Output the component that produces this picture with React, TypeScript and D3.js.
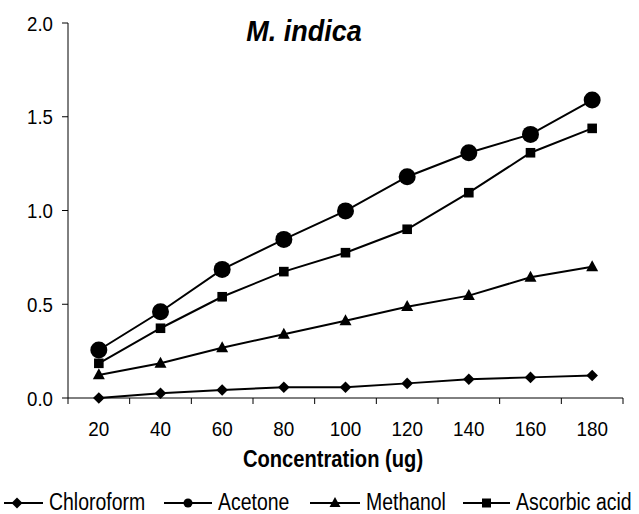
import React from "react";
import * as d3 from "d3";

// concentration (ug) on the x axis
const categories = ["20", "40", "60", "80", "100", "120", "140", "160", "180"];

const chloroform = [0.0, 0.025, 0.043, 0.057, 0.057, 0.078, 0.1, 0.11, 0.12];
const acetone = [0.256, 0.46, 0.686, 0.846, 0.998, 1.18, 1.308, 1.406, 1.589];
const methanol = [0.123, 0.185, 0.268, 0.34, 0.412, 0.487, 0.546, 0.644, 0.7];
const ascorbic = [0.185, 0.372, 0.54, 0.674, 0.775, 0.9, 1.095, 1.308, 1.438];

const yTicks = [0, 0.5, 1.0, 1.5, 2.0];

const seriesList = [
  { name: "Chloroform", values: chloroform, shape: "diamond" },
  { name: "Acetone", values: acetone, shape: "circle" },
  { name: "Methanol", values: methanol, shape: "triangle" },
  { name: "Ascorbic acid", values: ascorbic, shape: "square" },
];

const width = 639;
const height = 514;
const plot = { left: 68, right: 623, top: 23, bottom: 398 };
const font = "'Liberation Sans', Arial, sans-serif";

// big markers in the plot, small ones in the legend
const markerPath = (shape: string, big: boolean) => {
  if (shape === "circle") {
    const r = big ? 8.5 : 4.5;
    return `M${-r},0A${r},${r} 0 1,0 ${r},0A${r},${r} 0 1,0 ${-r},0Z`;
  }
  if (shape === "square") {
    const h = big ? 4.8 : 4.5;
    return `M${-h},${-h}H${h}V${h}H${-h}Z`;
  }
  if (shape === "triangle") {
    const w = big ? 6 : 5.5;
    const h = big ? 11 : 10;
    return `M0,${-h * 0.6}L${w},${h * 0.4}L${-w},${h * 0.4}Z`;
  }
  const d = big ? 5.8 : 5.5;
  return `M0,${-d}L${d},0L0,${d}L${-d},0Z`;
};

const Label = ({ x, y, size, sx, anchor = "start", weight = "normal", italic = false, children }: any) => (
  <text
    transform={`translate(${x},${y}) scale(${sx},1)`}
    textAnchor={anchor}
    fontSize={size}
    fontWeight={weight}
    fontStyle={italic ? "italic" : "normal"}
    fontFamily={font}
    fill="#000"
  >
    {children}
  </text>
);

const App = () => {
  const xScale = d3.scaleBand().domain(categories).range([plot.left, plot.right]);
  const yScale = d3.scaleLinear().domain([0, 2]).range([plot.bottom, plot.top]);
  const cx = (c: string) => (xScale(c) as number) + xScale.bandwidth() / 2;

  const line = d3
    .line<number>()
    .x((d, i) => cx(categories[i]))
    .y((d) => yScale(d));

  const boundaries = categories.map((c) => xScale(c) as number).concat([plot.right]);

  const legendLine = [
    [4, 43],
    [164, 212],
    [310, 360],
    [463, 510],
  ];
  const legendY = 503;

  return (
    <svg
      width={width}
      height={height}
      style={{ position: "absolute", left: 0, top: 0, background: "#fff" }}
    >
      <rect width={width} height={height} fill="#fff" />

      <Label x={304} y={41} size={30} sx={0.9} anchor="middle" weight="bold" italic>
        M. indica
      </Label>

      {/* y axis */}
      <line x1={plot.left} x2={plot.left} y1={plot.top} y2={plot.bottom} stroke="#000" strokeWidth={1} />
      {yTicks.map((t) => (
        <g key={t}>
          <line x1={plot.left - 6} x2={plot.left} y1={yScale(t)} y2={yScale(t)} stroke="#000" />
          <Label x={53} y={yScale(t) + 7.5} size={21} sx={0.89} anchor="end">
            {d3.format(".1f")(t)}
          </Label>
        </g>
      ))}

      {/* x axis */}
      <line x1={plot.left} x2={plot.right} y1={plot.bottom} y2={plot.bottom} stroke="#000" />
      {boundaries.map((b, i) => (
        <line key={i} x1={b} x2={b} y1={plot.bottom} y2={plot.bottom + 6} stroke="#000" />
      ))}
      {categories.map((c) => (
        <Label key={c} x={cx(c)} y={436} size={21} sx={0.9} anchor="middle">
          {c}
        </Label>
      ))}
      <Label x={333} y={467} size={24} sx={0.84} anchor="middle" weight="bold">
        Concentration (ug)
      </Label>

      {/* series */}
      {seriesList.map((s) => (
        <g key={s.name}>
          <path d={line(s.values) || ""} fill="none" stroke="#000" strokeWidth={2} />
          {s.values.map((v, i) => (
            <path
              key={i}
              d={markerPath(s.shape, true)}
              transform={`translate(${cx(categories[i])},${yScale(v)})`}
              fill="#000"
            />
          ))}
        </g>
      ))}

      {/* legend */}
      {seriesList.map((s, i) => {
        const [x0, x1] = legendLine[i];
        return (
          <g key={s.name}>
            <line x1={x0} x2={x1} y1={legendY} y2={legendY} stroke="#000" strokeWidth={2} />
            <path
              d={markerPath(s.shape, false)}
              transform={`translate(${i === 0 ? 17 : (x0 + x1) / 2},${legendY})`}
              fill="#000"
            />
            <Label x={x1 + 6} y={510} size={24} sx={0.81}>
              {s.name}
            </Label>
          </g>
        );
      })}
    </svg>
  );
};

export default App;
